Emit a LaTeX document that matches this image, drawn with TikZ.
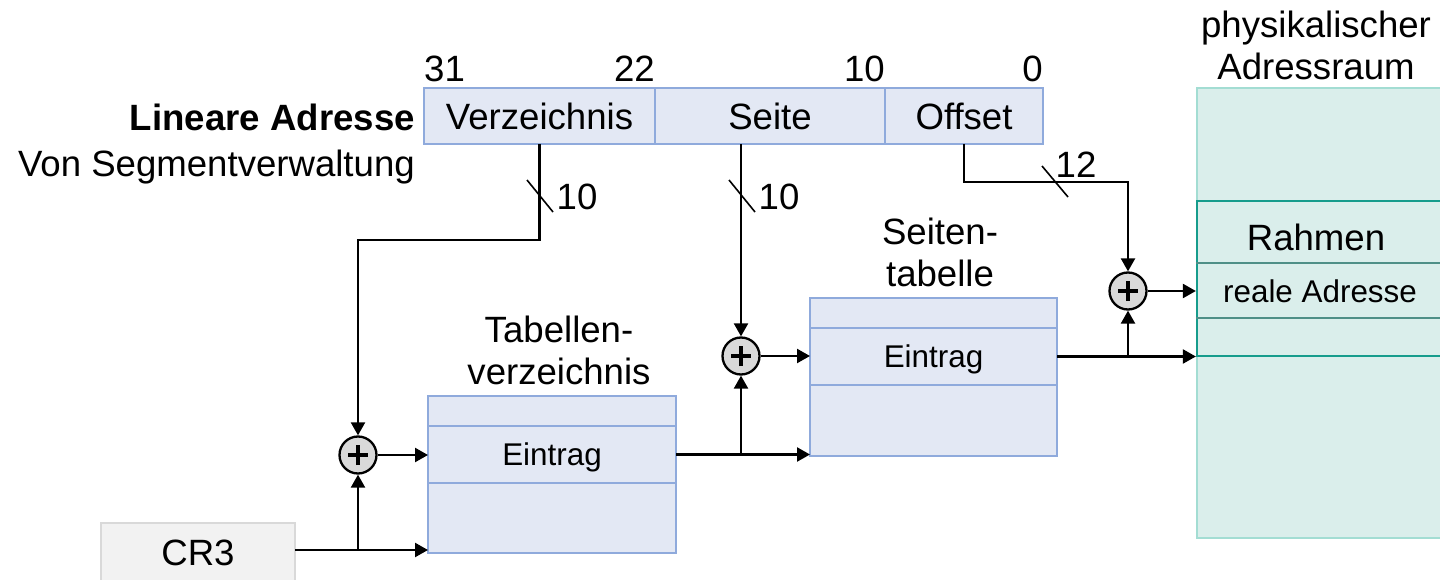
\documentclass[tikz,border=0pt]{standalone}
\usepackage{fontspec}
\setmainfont{Liberation Sans}
\usetikzlibrary{arrows.meta,calc}
\definecolor{barfill}{HTML}{E3E8F4}
\definecolor{barline}{HTML}{8FAADC}
\definecolor{physfill}{HTML}{DAEEEB}
\definecolor{physline}{HTML}{A3DDD3}
\definecolor{frameline}{HTML}{169C8C}
\definecolor{rowline}{HTML}{4E8F87}
\definecolor{crfill}{HTML}{F2F2F2}
\definecolor{crline}{HTML}{D9D9D9}
\definecolor{plusfill}{HTML}{D9D9D9}
\begin{document}
\begin{tikzpicture}[x=1pt,y=-1pt,
  big/.style={font=\fontsize{36.6}{42}\selectfont},
  small/.style={font=\fontsize{31.4}{36}\selectfont, text depth=0pt},
  cell/.style={draw=barline, fill=barfill, line width=2pt, inner sep=0pt, outer sep=0pt},
  conn/.style={line width=2.3pt},
  arr/.style={conn, -{Triangle[length=13pt,width=14pt]}},
  tick/.style={line width=1.6pt},
  adder/.style={circle, draw, line width=2.3pt, fill=plusfill, minimum size=37pt, inner sep=0pt,
    path picture={
      \draw[line width=3.6pt] ([xshift=-10pt]path picture bounding box.center) -- ([xshift=10pt]path picture bounding box.center);
      \draw[line width=3.6pt] ([yshift=-10pt]path picture bounding box.center) -- ([yshift=10pt]path picture bounding box.center);}},
  txt/.style={big, inner sep=0pt}]
\useasboundingbox (0,0) rectangle (1440,580);
\clip (0,0) rectangle (1440,580);

% physical address space
\node[draw=physline, fill=physfill, line width=2.3pt, minimum width=300, minimum height=450, inner sep=0pt] (phys) at (1347,313) {};
\node[draw=frameline, line width=2.3pt, minimum width=300, minimum height=155, inner sep=0pt] (frame) at (1347,278.5) {};
\draw[rowline, line width=2pt] (frame.west |- 0,263) -- (frame.east |- 0,263);
\draw[rowline, line width=2pt] (frame.west |- 0,318) -- (frame.east |- 0,318);
\node[txt, anchor=base] (rahmen) at (1316,250) {Rahmen};
\node[small, inner sep=0pt, anchor=base] (real) at (1320,302) {reale Adresse};
\node[txt, align=center] (physlbl) at (1316,45) {physikalischer\\Adressraum};

% linear address
\node[cell, big, minimum width=231, minimum height=56] (verz) at (539.5,116) {Verzeichnis};
\node[cell, big, minimum width=230, minimum height=56] (seite) at (770,116) {Seite};
\node[cell, big, minimum width=158, minimum height=56] (off) at (964,116) {Offset};
\node[txt, anchor=base west] (b31) at (424,82) {31};
\node[txt, anchor=base east] (b22) at (655,82) {22};
\node[txt, anchor=base east] (b10) at (885,82) {10};
\node[txt, anchor=base east] (b0) at (1043,82) {0};
\node[txt, anchor=base east, font=\fontsize{36.6}{42}\selectfont\bfseries] (lin) at (415,131) {Lineare Adresse};
\node[txt, anchor=base east] (von) at (415,177) {Von Segmentverwaltung};

% Tabellenverzeichnis
\node[cell, minimum width=248, minimum height=30] (t1a) at (552,411) {};
\node[cell, small, minimum width=248, minimum height=57] (t1e) at (552,454.5) {Eintrag};
\node[cell, minimum width=248, minimum height=70] (t1c) at (552,518) {};
\node[txt, align=center] (t1lbl) at (559,350) {Tabellen-\\verzeichnis};

% Seitentabelle
\node[cell, minimum width=247, minimum height=30] (t2a) at (933.5,313) {};
\node[cell, small, minimum width=247, minimum height=57] (t2e) at (933.5,356.5) {Eintrag};
\node[cell, minimum width=247, minimum height=71] (t2c) at (933.5,420.5) {};
\node[txt, align=center] (t2lbl) at (940,252) {Seiten-\\tabelle};

% CR3
\node[draw=crline, fill=crfill, line width=2pt, minimum width=194, minimum height=77, inner sep=0pt] (cr3) at (198,561.5) {};
\node[txt] (cr3lbl) at (198,553) {CR3};

% adders
\node[adder] (add1) at (358,455) {};
\node[adder] (add2) at (741,356) {};
\node[adder] (add3) at (1128,291) {};

% coordinates
\coordinate (crout) at (295,550);
\coordinate (j1) at (358,550);
\coordinate (t1in) at (428,550);
\coordinate (j2) at (741,454.5);
\coordinate (t2in) at (t2c.west |- t1e.east);
\coordinate (j3) at (1128,356.5);

% connectors
\draw[arr] (verz.south) -- ++(0,96) -| (add1);
\draw[arr] (seite.south -| add2) -- (add2);
\draw[arr] (off.south) |- ($(add3)+(0,-109)$) -- (add3);
\draw[arr] (add1) -- (t1e.west |- add1);
\draw[arr] (crout) -- (t1in);
\draw[arr] (j1) -- (add1);
\draw[arr] (t1e.east) -- (t2in);
\draw[arr] (j2) -- (add2);
\draw[arr] (add2) -- (t2e.west |- add2);
\draw[arr] (t2e.east) -- (phys.west |- t2e);
\draw[arr] (j3) -- (add3);
\draw[arr] (add3) -- (phys.west |- add3);

% bus width ticks
\draw[tick] (527,180) -- (553,212);
\node[txt] (w1) at (577,197) {10};
\draw[tick] (729,180) -- (755,212);
\node[txt] (w2) at (779,197) {10};
\draw[tick] (1042,166) -- (1068,197);
\node[txt] (w3) at (1076,165) {12};
\end{tikzpicture}
\end{document}
